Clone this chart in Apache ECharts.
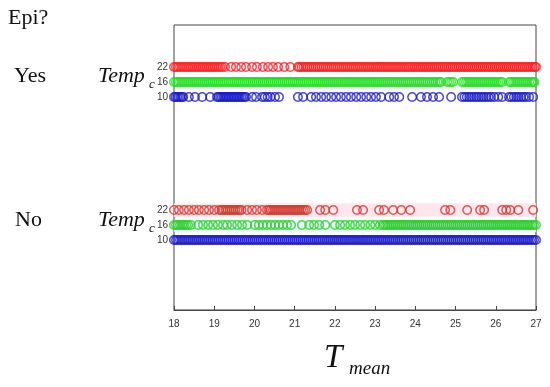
<!DOCTYPE html>
<html><head><meta charset="utf-8">
<script src="https://cdn.jsdelivr.net/npm/echarts@6/dist/echarts.min.js"></script>
<style>html,body{margin:0;padding:0;background:#fff}#c{width:550px;height:387px}</style>
</head><body><div id="c"></div>
<script>
// x-axis ticks
var xTicks = [18,19,20,21,22,23,24,25,26,27];
// Temp_c row labels
var tempLevels = ['10','16','22'];
// Epi? = Yes
var yes22 = [18,18.05,18.1,18.15,18.2,18.25,18.3,18.35,18.4,18.45,18.5,18.55,18.6,18.65,18.7,18.75,18.8,18.85,18.9,18.95,
  19,19.05,19.1,19.15,19.2,19.27,19.42,19.54,19.67,19.79,19.94,20.06,20.21,20.34,20.46,20.59,20.74,20.89,
  21.08,21.12,21.17,21.22,21.27,21.32,21.37,21.42,21.47,21.52,21.57,21.62,21.67,21.72,21.77,21.82,21.87,21.92,21.97,
  22.02,22.07,22.12,22.17,22.22,22.27,22.32,22.37,22.42,22.47,22.52,22.57,22.62,22.67,22.72,22.77,22.82,22.87,22.92,22.97,
  23.02,23.07,23.12,23.17,23.22,23.27,23.32,23.37,23.42,23.47,23.52,23.57,23.62,23.67,23.72,23.77,23.82,23.87,23.92,23.97,
  24.02,24.07,24.12,24.17,24.22,24.27,24.32,24.37,24.42,24.47,24.52,24.57,24.62,24.67,24.72,24.77,24.82,24.87,24.92,24.97,
  25.02,25.07,25.12,25.17,25.22,25.27,25.32,25.37,25.42,25.47,25.52,25.57,25.62,25.67,25.72,25.77,25.82,25.87,25.92,25.97,
  26.02,26.07,26.12,26.17,26.22,26.27,26.32,26.37,26.42,26.47,26.52,26.57,26.62,26.67,26.72,26.77,26.82,26.87,26.92,26.97,27];
var yes16 = [18,18.05,18.1,18.15,18.2,18.25,18.3,18.35,18.4,18.45,18.5,18.55,18.6,18.65,18.7,18.75,18.8,18.85,18.9,18.95,
  19,19.05,19.1,19.15,19.2,19.25,19.3,19.35,19.4,19.45,19.5,19.55,19.6,19.65,19.7,19.75,19.8,19.85,19.9,19.95,
  20,20.05,20.1,20.15,20.2,20.25,20.3,20.35,20.4,20.45,20.5,20.55,20.6,20.65,20.7,20.75,20.8,20.85,20.9,20.95,
  21,21.05,21.1,21.15,21.2,21.25,21.3,21.35,21.4,21.45,21.5,21.55,21.6,21.65,21.7,21.75,21.8,21.85,21.9,21.95,
  22,22.05,22.1,22.15,22.2,22.25,22.3,22.35,22.4,22.45,22.5,22.55,22.6,22.65,22.7,22.75,22.8,22.85,22.9,22.95,
  23,23.05,23.1,23.15,23.2,23.25,23.3,23.35,23.4,23.45,23.5,23.55,23.6,23.65,23.7,23.75,23.8,23.85,23.9,23.95,
  24,24.05,24.1,24.15,24.2,24.25,24.3,24.35,24.4,24.45,24.5,24.55,24.6,24.64,
  24.79,24.84,24.89,24.94,
  25.16,25.21,25.26,25.31,25.36,25.41,25.46,25.51,25.56,25.61,25.66,25.71,25.76,25.81,25.86,25.91,25.96,26.01,26.06,26.11,26.16,
  26.33,26.38,26.43,26.48,26.53,26.58,26.63,26.68,26.73,26.78,26.83,26.88,26.93,26.96];
var yes10 = [18,18.04,18.08,18.12,18.16,18.2,18.23,18.37,18.52,18.70,18.90,
  19.07,19.11,19.15,19.19,19.23,19.27,19.31,19.35,19.39,19.43,19.47,19.51,19.55,19.59,19.63,19.67,19.71,19.75,19.79,
  19.94,20.04,20.19,20.26,20.33,20.40,20.51,20.61,21.08,21.21,
  21.41,21.53,21.66,21.78,21.91,22.03,22.15,22.28,22.40,22.53,22.65,22.78,22.90,23.02,23.15,23.35,23.47,23.60,23.92,
  24.14,24.29,24.44,24.59,24.89,
  25.16,25.22,25.28,25.34,25.40,25.46,25.52,25.58,25.64,25.70,25.76,25.82,25.88,25.96,26.06,26.16,
  26.33,26.39,26.45,26.51,26.57,26.63,26.69,26.75,26.83,26.93];
// Epi? = No
var no22 = [18,18.12,18.25,18.37,18.5,18.62,18.75,18.87,19.0,19.12,19.18,19.23,19.28,19.33,19.38,19.43,19.48,19.53,19.58,19.63,19.68,
  19.82,19.94,20.06,20.19,20.31,20.36,20.41,20.46,20.51,20.56,20.61,20.66,20.71,20.76,20.81,20.86,20.91,20.96,21.01,21.06,21.11,21.16,21.21,21.26,21.31,
  21.63,21.76,21.96,22.55,22.70,23.10,23.22,23.45,23.65,23.87,24.74,24.87,25.29,25.61,25.71,26.16,26.26,26.36,26.56,26.93];
var no16 = [18,18.05,18.1,18.15,18.2,18.25,18.3,18.35,18.42,18.6,18.72,18.85,18.97,19.09,19.22,19.32,19.44,19.57,19.69,19.82,
  20.01,20.11,20.21,20.31,20.41,20.51,20.61,20.71,20.81,20.91,21.18,21.36,21.48,21.61,21.76,
  22.0,22.13,22.25,22.38,22.5,22.63,22.75,22.88,23.0,23.12,
  23.2,23.25,23.3,23.35,23.4,23.45,23.5,23.55,23.6,23.65,23.7,23.75,23.8,23.85,23.9,23.95,
  24,24.05,24.1,24.15,24.2,24.25,24.3,24.35,24.4,24.45,24.5,24.55,24.6,24.65,24.7,24.75,24.8,24.85,24.9,24.95,
  25,25.05,25.1,25.15,25.2,25.25,25.3,25.35,25.4,25.45,25.5,25.55,25.6,25.65,25.7,25.75,25.8,25.85,25.9,25.95,
  26,26.05,26.1,26.15,26.2,26.25,26.3,26.35,26.4,26.45,26.5,26.55,26.6,26.65,26.7,26.75,26.8,26.85,26.9,26.95,27];
var no10 = [18,18.05,18.1,18.15,18.2,18.25,18.3,18.35,18.4,18.45,18.5,18.55,18.6,18.65,18.7,18.75,18.8,18.85,18.9,18.95,
  19,19.05,19.1,19.15,19.2,19.25,19.3,19.35,19.4,19.45,19.5,19.55,19.6,19.65,19.7,19.75,19.8,19.85,19.9,19.95,
  20,20.05,20.1,20.15,20.2,20.25,20.3,20.35,20.4,20.45,20.5,20.55,20.6,20.65,20.7,20.75,20.8,20.85,20.9,20.95,
  21,21.05,21.1,21.15,21.2,21.25,21.3,21.35,21.4,21.45,21.5,21.55,21.6,21.65,21.7,21.75,21.8,21.85,21.9,21.95,
  22,22.05,22.1,22.15,22.2,22.25,22.3,22.35,22.4,22.45,22.5,22.55,22.6,22.65,22.7,22.75,22.8,22.85,22.9,22.95,
  23,23.05,23.1,23.15,23.2,23.25,23.3,23.35,23.4,23.45,23.5,23.55,23.6,23.65,23.7,23.75,23.8,23.85,23.9,23.95,
  24,24.05,24.1,24.15,24.2,24.25,24.3,24.35,24.4,24.45,24.5,24.55,24.6,24.65,24.7,24.75,24.8,24.85,24.9,24.95,
  25,25.05,25.1,25.15,25.2,25.25,25.3,25.35,25.4,25.45,25.5,25.55,25.6,25.65,25.7,25.75,25.8,25.85,25.9,25.95,
  26,26.05,26.1,26.15,26.2,26.25,26.3,26.35,26.4,26.45,26.5,26.55,26.6,26.65,26.7,26.75,26.8,26.85,26.9,26.95,27];

// row layout on a hidden vertical scale (not data)
var Y_MAX = 19;
var rowPos = {yes: [14.2, 15.2, 16.2], no: [4.67, 5.67, 6.67]};

function pts(xs, y){ return xs.map(function(x){ return [x, y]; }); }
function ser(name, xs, y, color, extra){
  var s = {name:name, type:'scatter', data:pts(xs,y), symbol:'circle', symbolSize:8.5,
    itemStyle:{color:'rgba(255,255,255,0)', borderColor:color, borderWidth:1.5},
    emphasis:{disabled:true}, z:3, clip:false};
  if (extra) for (var k in extra) s[k]=extra[k];
  return s;
}
var customY = rowPos.yes.concat(rowPos.no);
var labelMap = {};
rowPos.yes.forEach(function(v,i){ labelMap[v.toFixed(2)] = tempLevels[i]; });
rowPos.no.forEach(function(v,i){ labelMap[v.toFixed(2)] = tempLevels[i]; });

var chart = echarts.init(document.getElementById('c'), null, {renderer:'canvas'});
var serif = 'Liberation Serif';
chart.setOption({
  animation:false,
  backgroundColor:'#fff',
  grid:{left:174, right:14, top:25, bottom:77, show:true, borderColor:'#444', borderWidth:1, backgroundColor:'transparent'},
  xAxis:{type:'value', min:18, max:27, interval:1,
    axisLine:{show:true, lineStyle:{color:'#444', width:1}},
    axisTick:{show:true, inside:true, length:4, lineStyle:{color:'#444'}},
    axisLabel:{fontSize:10, color:'#333', fontFamily:'Liberation Sans', margin:9,
      formatter:function(v){ return xTicks.indexOf(v)>=0 ? String(v) : ''; }},
    splitLine:{show:false}},
  yAxis:{type:'value', min:0, max:Y_MAX,
    axisLine:{show:false}, axisTick:{show:false}, splitLine:{show:false},
    axisLabel:{show:true, customValues:customY, fontSize:10, color:'#333', fontFamily:'Liberation Sans', margin:6,
      formatter:function(v){ return labelMap[Number(v).toFixed(2)] || ''; }}},
  graphic:[
    {type:'text', left:8, top:7, style:{text:'Epi?', fontSize:22, fontFamily:serif, fill:'#111'}},
    {type:'text', x:14, y:76, style:{text:'Yes', fontSize:22, fontFamily:serif, fill:'#111', verticalAlign:'middle'}},
    {type:'text', x:15, y:220, style:{text:'No', fontSize:22, fontFamily:serif, fill:'#111', verticalAlign:'middle'}},
    {type:'text', x:98, y:76, style:{text:'Temp', fontSize:22, fontStyle:'italic', fontFamily:serif, fill:'#111', verticalAlign:'middle'}},
    {type:'text', x:149, y:85, style:{text:'c', fontSize:13, fontStyle:'italic', fontFamily:serif, fill:'#111', verticalAlign:'middle'}},
    {type:'text', x:98, y:220, style:{text:'Temp', fontSize:22, fontStyle:'italic', fontFamily:serif, fill:'#111', verticalAlign:'middle'}},
    {type:'text', x:149, y:229, style:{text:'c', fontSize:13, fontStyle:'italic', fontFamily:serif, fill:'#111', verticalAlign:'middle'}},
    {type:'text', x:324, y:358, style:{text:'T', fontSize:33, fontStyle:'italic', fontFamily:serif, fill:'#111', verticalAlign:'middle'}},
    {type:'text', x:349, y:369, style:{text:'mean', fontSize:19, fontStyle:'italic', fontFamily:serif, fill:'#111', verticalAlign:'middle'}}
  ],
  series:[
    ser('No 22', no22, rowPos.no[2], '#d2382e', {markArea:{silent:true, itemStyle:{color:'#fde6ee'},
      data:[[{yAxis:rowPos.no[2]-0.45},{yAxis:rowPos.no[2]+0.45}]]}}),
    ser('No 16', no16, rowPos.no[1], '#2fcc2a', {markArea:{silent:true, itemStyle:{color:'#e2fbf8'},
      data:[[{yAxis:rowPos.no[1]-0.45},{yAxis:rowPos.no[1]+0.35}]]}}),
    ser('No 10', no10, rowPos.no[0], '#1c1cc8'),
    ser('Yes 22', yes22, rowPos.yes[2], '#ff2020'),
    ser('Yes 16', yes16, rowPos.yes[1], '#22e022'),
    ser('Yes 10', yes10, rowPos.yes[0], '#1c1cc8')
  ]
});
</script></body></html>
